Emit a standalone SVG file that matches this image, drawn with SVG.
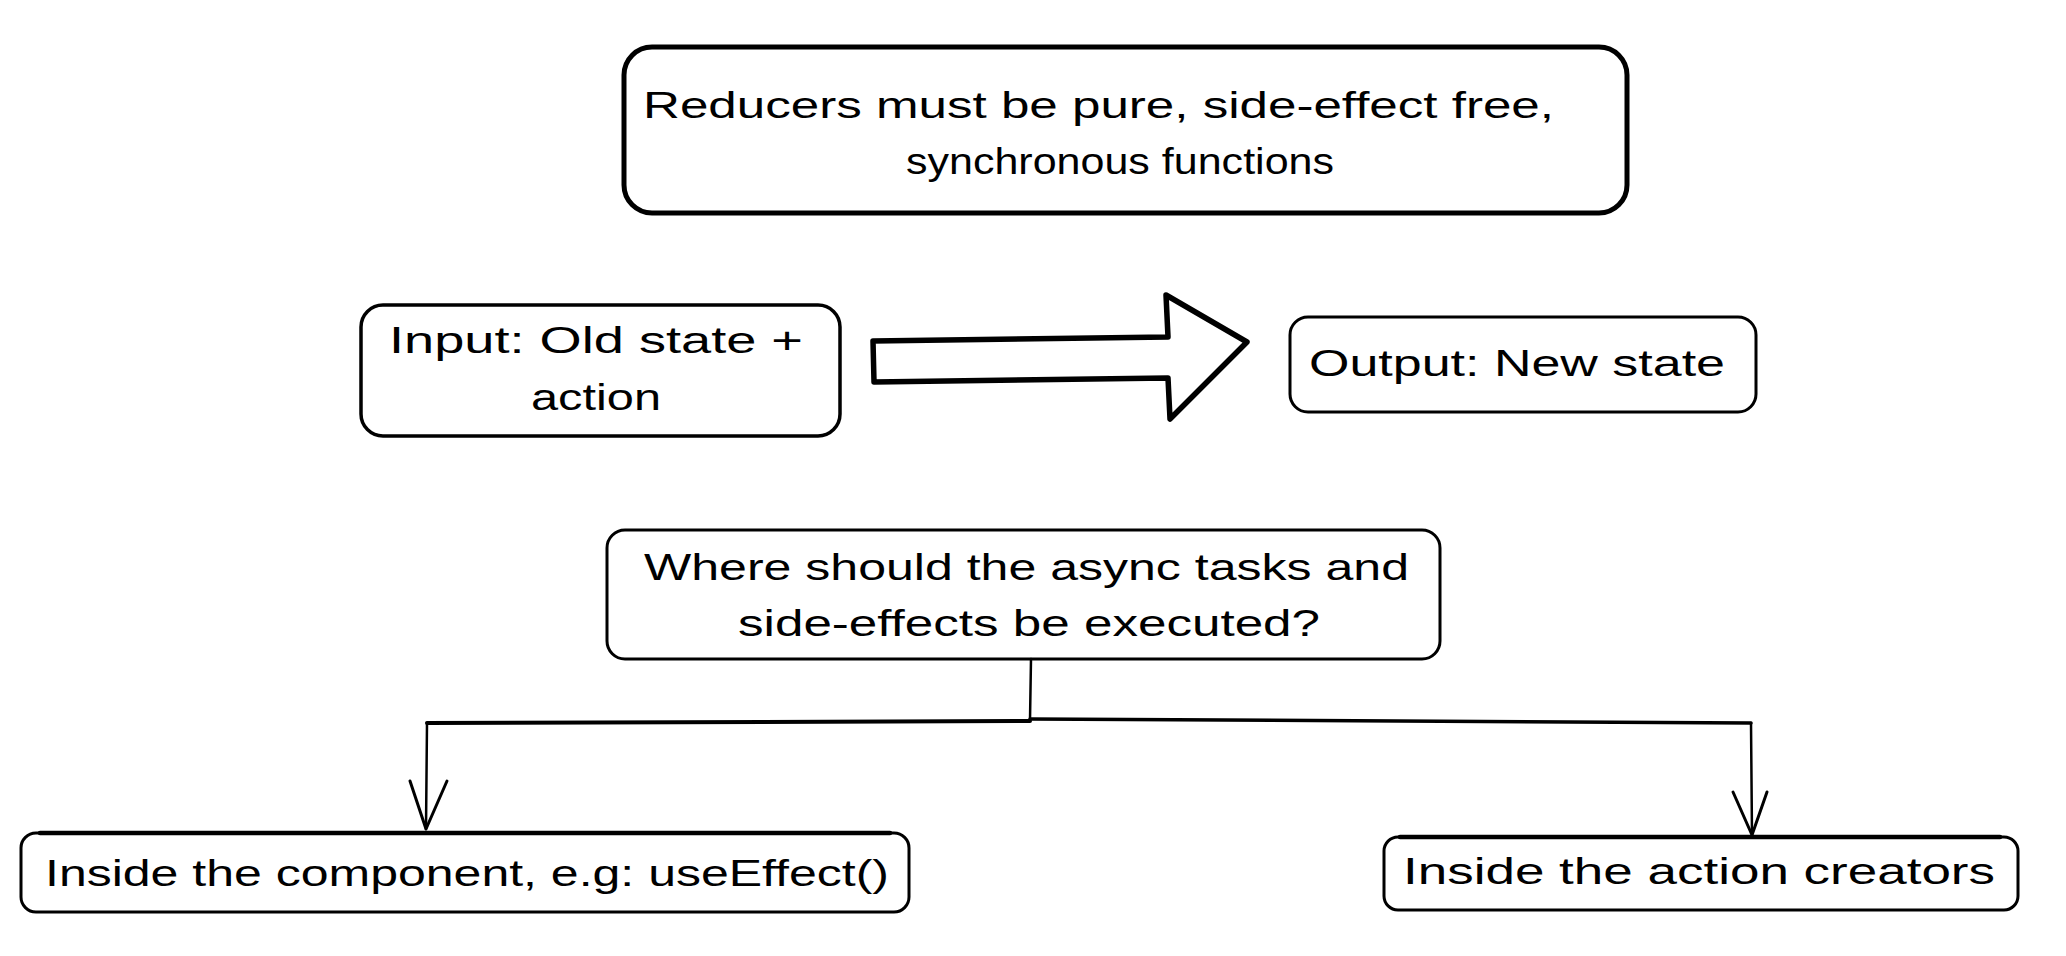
<svg xmlns="http://www.w3.org/2000/svg" width="2066" height="956" viewBox="0 0 2066 956">
<style>
.box{fill:#ffffff;stroke:#000;stroke-linejoin:round}
.t{font-family:"Liberation Sans","DejaVu Sans",sans-serif;font-size:37px;fill:#000}
.c{fill:none;stroke:#000;stroke-linecap:round;stroke-linejoin:round}
</style>
<rect width="2066" height="956" fill="#ffffff"/>
<g id="node-reducers">
<rect class="box" x="624" y="47" width="1003" height="166" rx="28" stroke-width="5"/>
<text class="t" x="643" y="118" textLength="911" lengthAdjust="spacingAndGlyphs">Reducers must be pure, side-effect free,</text>
<text class="t" x="906" y="174" textLength="428" lengthAdjust="spacingAndGlyphs">synchronous functions</text>
</g>
<g id="node-input">
<rect class="box" x="361" y="305" width="479" height="131" rx="22" stroke-width="3.5"/>
<text class="t" x="389" y="353" textLength="414" lengthAdjust="spacingAndGlyphs">Input: Old state +</text>
<text class="t" x="531" y="410" textLength="130" lengthAdjust="spacingAndGlyphs">action</text>
</g>
<g id="node-output">
<rect class="box" x="1290" y="317" width="466" height="95" rx="18" stroke-width="3"/>
<text class="t" x="1309" y="376" textLength="416" lengthAdjust="spacingAndGlyphs">Output: New state</text>
</g>
<g id="node-question">
<rect class="box" x="607" y="530" width="833" height="129" rx="18" stroke-width="3"/>
<text class="t" x="644" y="580" textLength="765" lengthAdjust="spacingAndGlyphs">Where should the async tasks and</text>
<text class="t" x="738" y="636" textLength="582" lengthAdjust="spacingAndGlyphs">side-effects be executed?</text>
</g>
<g id="node-component">
<rect class="box" x="21" y="833" width="888" height="79" rx="15" stroke-width="3"/>
<path class="c" d="M40 833 L890 833" stroke-width="4.5"/>
<text class="t" x="45" y="886" textLength="844" lengthAdjust="spacingAndGlyphs">Inside the component, e.g: useEffect()</text>
</g>
<g id="node-creators">
<rect class="box" x="1384" y="837" width="634" height="73" rx="14" stroke-width="3"/>
<path class="c" d="M1400 837 L2000 837" stroke-width="4.5"/>
<text class="t" x="1403" y="884" textLength="592" lengthAdjust="spacingAndGlyphs">Inside the action creators</text>
</g>
<g id="connectors">
<path id="block-arrow" class="c" d="M873 341 L1168 337 L1166 295 L1247 342 L1170 419 L1168 378 L874 382 Z" stroke-width="5.5"/>
<path class="c" d="M1031 659 L1030 720" stroke-width="2.5"/>
<path class="c" d="M1030 721 L427 723" stroke-width="4"/>
<path class="c" d="M1030 719 L1751 723" stroke-width="3.5"/>
<path class="c" d="M427 723 L426 829" stroke-width="2.5"/>
<path class="c" d="M410 781 L426 829 L447 781" stroke-width="3"/>
<path class="c" d="M1751 723 L1752 835" stroke-width="2.5"/>
<path class="c" d="M1733 792 L1752 835 L1767 792" stroke-width="3"/>
</g>
</svg>
